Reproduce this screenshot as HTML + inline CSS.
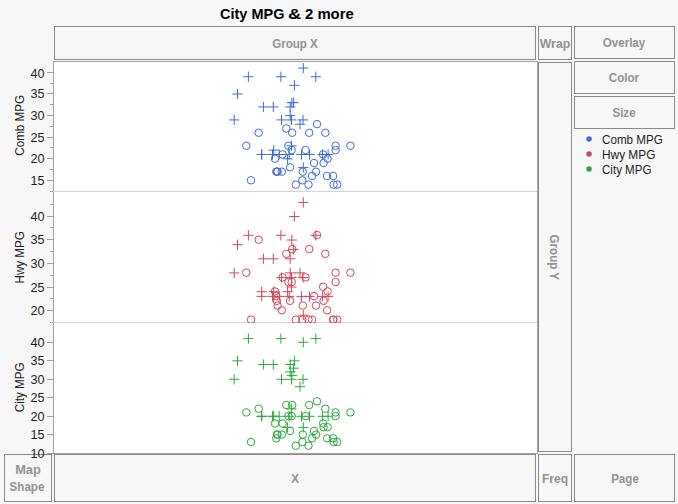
<!DOCTYPE html>
<html><head><meta charset="utf-8"><title>Graph Builder</title>
<style>
html,body{margin:0;padding:0;}
body{width:678px;height:504px;background:#f7f7f7;position:relative;overflow:hidden;font-family:"Liberation Sans",sans-serif;}
.t{position:absolute;white-space:nowrap;line-height:1;}
.title{font-weight:bold;font-size:15.1px;color:#000;transform:scaleX(0.985);transform-origin:0 50%;}
.zone{font-weight:bold;font-size:12.6px;color:#929292;text-align:center;transform:scaleX(0.92);transform-origin:50% 50%;}
.tk{font-size:12.6px;color:#1c1c1c;text-align:right;width:30px;}
.lg{font-size:12.6px;color:#1c1c1c;transform:scaleX(0.925);transform-origin:0 50%;}
.ax{font-size:12.6px;color:#1c1c1c;}
</style></head><body>
<svg width="678" height="504" viewBox="0 0 678 504" style="position:absolute;left:0;top:0">
<defs><clipPath id="c1"><rect x="54" y="62" width="483" height="130"/></clipPath><clipPath id="c2"><rect x="54" y="192" width="483" height="131"/></clipPath><clipPath id="c3"><rect x="54" y="323" width="483" height="130"/></clipPath></defs>
<rect x="54" y="62" width="483" height="391" fill="#ffffff"/>
<g shape-rendering="crispEdges">
<rect x="54.5" y="26.5" width="481" height="33" fill="none" stroke="#8a8a8a" stroke-width="1"/>
<rect x="538.5" y="26.5" width="33" height="33" fill="none" stroke="#8a8a8a" stroke-width="1"/>
<rect x="574.5" y="26.5" width="100" height="32" fill="none" stroke="#8a8a8a" stroke-width="1"/>
<rect x="574.5" y="61.5" width="100" height="32" fill="none" stroke="#8a8a8a" stroke-width="1"/>
<rect x="574.5" y="96.5" width="100" height="32" fill="none" stroke="#8a8a8a" stroke-width="1"/>
<rect x="538.5" y="62.5" width="33" height="389" fill="none" stroke="#8a8a8a" stroke-width="1"/>
<rect x="4.5" y="454.5" width="47" height="47" fill="none" stroke="#8a8a8a" stroke-width="1"/>
<rect x="54.5" y="454.5" width="481" height="47" fill="none" stroke="#8a8a8a" stroke-width="1"/>
<rect x="538.5" y="454.5" width="33" height="47" fill="none" stroke="#8a8a8a" stroke-width="1"/>
<rect x="574.5" y="454.5" width="100" height="47" fill="none" stroke="#8a8a8a" stroke-width="1"/>
<rect x="53" y="61" width="485" height="1" fill="#a2a2a2"/>
<rect x="53" y="61" width="1" height="393" fill="#a2a2a2"/>
<rect x="537" y="61" width="1" height="393" fill="#a2a2a2"/>
<rect x="53" y="453" width="485" height="1" fill="#a2a2a2"/>
<rect x="53" y="191" width="484" height="1" fill="#d4d4d4"/>
<rect x="53" y="322" width="484" height="1" fill="#d4d4d4"/>
<rect x="47" y="72" width="6" height="1" fill="#a0a0a0"/>
<rect x="47" y="93" width="6" height="1" fill="#a0a0a0"/>
<rect x="47" y="115" width="6" height="1" fill="#a0a0a0"/>
<rect x="47" y="137" width="6" height="1" fill="#a0a0a0"/>
<rect x="47" y="158" width="6" height="1" fill="#a0a0a0"/>
<rect x="47" y="180" width="6" height="1" fill="#a0a0a0"/>
<rect x="50" y="83" width="3" height="1" fill="#a0a0a0"/>
<rect x="50" y="104" width="3" height="1" fill="#a0a0a0"/>
<rect x="50" y="126" width="3" height="1" fill="#a0a0a0"/>
<rect x="50" y="147" width="3" height="1" fill="#a0a0a0"/>
<rect x="50" y="169" width="3" height="1" fill="#a0a0a0"/>
<rect x="50" y="191" width="3" height="1" fill="#a0a0a0"/>
<rect x="47" y="216" width="6" height="1" fill="#a0a0a0"/>
<rect x="47" y="239" width="6" height="1" fill="#a0a0a0"/>
<rect x="47" y="263" width="6" height="1" fill="#a0a0a0"/>
<rect x="47" y="287" width="6" height="1" fill="#a0a0a0"/>
<rect x="47" y="310" width="6" height="1" fill="#a0a0a0"/>
<rect x="50" y="204" width="3" height="1" fill="#a0a0a0"/>
<rect x="50" y="227" width="3" height="1" fill="#a0a0a0"/>
<rect x="50" y="251" width="3" height="1" fill="#a0a0a0"/>
<rect x="50" y="275" width="3" height="1" fill="#a0a0a0"/>
<rect x="50" y="298" width="3" height="1" fill="#a0a0a0"/>
<rect x="50" y="322" width="3" height="1" fill="#a0a0a0"/>
<rect x="47" y="342" width="6" height="1" fill="#a0a0a0"/>
<rect x="47" y="360" width="6" height="1" fill="#a0a0a0"/>
<rect x="47" y="379" width="6" height="1" fill="#a0a0a0"/>
<rect x="47" y="397" width="6" height="1" fill="#a0a0a0"/>
<rect x="47" y="416" width="6" height="1" fill="#a0a0a0"/>
<rect x="47" y="434" width="6" height="1" fill="#a0a0a0"/>
<rect x="47" y="453" width="6" height="1" fill="#a0a0a0"/>
</g>
<g clip-path="url(#c1)" stroke="#3f6bdc" stroke-width="1.0" fill="none">
<path d="M243.30 76.72H253.50M248.40 71.62V81.82M275.80 76.72H286.00M280.90 71.62V81.82M298.20 68.08H308.40M303.30 62.98V73.18M310.70 76.72H320.90M315.80 71.62V81.82M232.40 94.00H242.60M237.50 88.90V99.10M258.30 106.96H268.50M263.40 101.86V112.06M268.20 106.96H278.40M273.30 101.86V112.06M289.30 85.36H299.50M294.40 80.26V90.46M285.10 106.96H295.30M290.20 101.86V112.06M288.50 102.64H298.70M293.60 97.54V107.74M285.10 115.60H295.30M290.20 110.50V120.70M286.75 102.64H296.95M291.85 97.54V107.74M229.10 119.92H239.30M234.20 114.82V125.02M276.40 119.92H286.60M281.50 114.82V125.02M286.40 119.92H296.60M291.50 114.82V125.02M297.90 119.92H308.10M303.00 114.82V125.02M294.90 124.24H305.10M300.00 119.14V129.34M256.60 154.48H266.80M261.70 149.38V159.58M256.60 154.48H266.80M261.70 149.38V159.58M267.40 154.48H277.60M272.50 149.38V159.58M268.60 150.16H278.80M273.70 145.06V155.26M274.10 154.48H284.30M279.20 149.38V159.58M284.10 154.48H294.30M289.20 149.38V159.58M286.30 145.84H296.50M291.40 140.74V150.94M296.40 154.48H306.60M301.50 149.38V159.58M304.40 154.48H314.60M309.50 149.38V159.58M317.50 154.48H327.70M322.60 149.38V159.58M323.00 154.48H333.20M328.10 149.38V159.58M282.50 158.80H292.70M287.60 153.70V163.90M298.20 167.44H308.40M303.30 162.34V172.54"/>
<circle cx="246.30" cy="145.74" r="3.75"/>
<circle cx="258.70" cy="132.78" r="3.75"/>
<circle cx="286.30" cy="128.46" r="3.75"/>
<circle cx="292.20" cy="132.78" r="3.75"/>
<circle cx="251.00" cy="180.30" r="3.75"/>
<circle cx="275.00" cy="158.70" r="3.75"/>
<circle cx="282.60" cy="154.38" r="3.75"/>
<circle cx="288.40" cy="145.74" r="3.75"/>
<circle cx="291.70" cy="150.06" r="3.75"/>
<circle cx="290.00" cy="167.34" r="3.75"/>
<circle cx="276.90" cy="171.66" r="3.75"/>
<circle cx="277.60" cy="171.66" r="3.75"/>
<circle cx="276.30" cy="171.66" r="3.75"/>
<circle cx="281.80" cy="171.66" r="3.75"/>
<circle cx="317.00" cy="124.14" r="3.75"/>
<circle cx="309.20" cy="132.78" r="3.75"/>
<circle cx="325.30" cy="132.78" r="3.75"/>
<circle cx="335.60" cy="145.74" r="3.75"/>
<circle cx="335.60" cy="150.06" r="3.75"/>
<circle cx="350.40" cy="145.74" r="3.75"/>
<circle cx="305.60" cy="150.06" r="3.75"/>
<circle cx="323.10" cy="154.38" r="3.75"/>
<circle cx="323.60" cy="163.02" r="3.75"/>
<circle cx="327.60" cy="158.70" r="3.75"/>
<circle cx="314.00" cy="163.02" r="3.75"/>
<circle cx="316.00" cy="171.66" r="3.75"/>
<circle cx="312.00" cy="175.98" r="3.75"/>
<circle cx="302.80" cy="171.66" r="3.75"/>
<circle cx="327.10" cy="175.98" r="3.75"/>
<circle cx="333.10" cy="175.98" r="3.75"/>
<circle cx="333.60" cy="184.62" r="3.75"/>
<circle cx="337.20" cy="184.62" r="3.75"/>
<circle cx="302.40" cy="180.30" r="3.75"/>
<circle cx="308.50" cy="184.62" r="3.75"/>
<circle cx="295.80" cy="184.62" r="3.75"/>
</g>
<g clip-path="url(#c2)" stroke="#d1465a" stroke-width="1.0" fill="none">
<path d="M243.30 235.30H253.50M248.40 230.20V240.40M275.80 235.30H286.00M280.90 230.20V240.40M298.20 202.40H308.40M303.30 197.30V207.50M310.70 235.30H320.90M315.80 230.20V240.40M232.40 244.70H242.60M237.50 239.60V249.80M258.30 258.80H268.50M263.40 253.70V263.90M268.20 258.80H278.40M273.30 253.70V263.90M289.30 216.50H299.50M294.40 211.40V221.60M285.10 258.80H295.30M290.20 253.70V263.90M288.50 249.40H298.70M293.60 244.30V254.50M285.10 272.90H295.30M290.20 267.80V278.00M286.75 240.00H296.95M291.85 234.90V245.10M229.10 272.90H239.30M234.20 267.80V278.00M276.40 277.60H286.60M281.50 272.50V282.70M286.40 277.60H296.60M291.50 272.50V282.70M297.90 277.60H308.10M303.00 272.50V282.70M294.90 272.90H305.10M300.00 267.80V278.00M256.60 291.70H266.80M261.70 286.60V296.80M256.60 296.40H266.80M261.70 291.30V301.50M267.40 296.40H277.60M272.50 291.30V301.50M268.60 291.70H278.80M273.70 286.60V296.80M274.10 296.40H284.30M279.20 291.30V301.50M284.10 296.40H294.30M289.20 291.30V301.50M286.30 287.00H296.50M291.40 281.90V292.10M296.40 296.40H306.60M301.50 291.30V301.50M304.40 296.40H314.60M309.50 291.30V301.50M317.50 296.40H327.70M322.60 291.30V301.50M323.00 296.40H333.20M328.10 291.30V301.50M282.50 291.70H292.70M287.60 286.60V296.80M298.20 315.20H308.40M303.30 310.10V320.30"/>
<circle cx="246.30" cy="272.65" r="3.75"/>
<circle cx="258.70" cy="239.75" r="3.75"/>
<circle cx="286.30" cy="253.85" r="3.75"/>
<circle cx="292.20" cy="249.15" r="3.75"/>
<circle cx="251.00" cy="319.65" r="3.75"/>
<circle cx="275.00" cy="291.45" r="3.75"/>
<circle cx="282.60" cy="277.35" r="3.75"/>
<circle cx="288.40" cy="282.05" r="3.75"/>
<circle cx="291.70" cy="282.05" r="3.75"/>
<circle cx="290.00" cy="300.85" r="3.75"/>
<circle cx="276.90" cy="300.85" r="3.75"/>
<circle cx="277.60" cy="305.55" r="3.75"/>
<circle cx="276.30" cy="296.15" r="3.75"/>
<circle cx="281.80" cy="310.25" r="3.75"/>
<circle cx="317.00" cy="235.05" r="3.75"/>
<circle cx="309.20" cy="249.15" r="3.75"/>
<circle cx="325.30" cy="253.85" r="3.75"/>
<circle cx="335.60" cy="272.65" r="3.75"/>
<circle cx="335.60" cy="282.05" r="3.75"/>
<circle cx="350.40" cy="272.65" r="3.75"/>
<circle cx="305.60" cy="277.35" r="3.75"/>
<circle cx="323.10" cy="286.75" r="3.75"/>
<circle cx="323.60" cy="300.85" r="3.75"/>
<circle cx="327.60" cy="291.45" r="3.75"/>
<circle cx="314.00" cy="296.15" r="3.75"/>
<circle cx="316.00" cy="305.55" r="3.75"/>
<circle cx="312.00" cy="319.65" r="3.75"/>
<circle cx="302.80" cy="305.55" r="3.75"/>
<circle cx="327.10" cy="310.25" r="3.75"/>
<circle cx="333.10" cy="319.65" r="3.75"/>
<circle cx="333.60" cy="319.65" r="3.75"/>
<circle cx="337.20" cy="319.65" r="3.75"/>
<circle cx="302.40" cy="319.65" r="3.75"/>
<circle cx="308.50" cy="319.65" r="3.75"/>
<circle cx="295.80" cy="319.65" r="3.75"/>
</g>
<g clip-path="url(#c3)" stroke="#2ca83c" stroke-width="1.0" fill="none">
<path d="M243.30 338.60H253.50M248.40 333.50V343.70M275.80 338.60H286.00M280.90 333.50V343.70M298.20 342.30H308.40M303.30 337.20V347.40M310.70 338.60H320.90M315.80 333.50V343.70M232.40 360.80H242.60M237.50 355.70V365.90M258.30 364.50H268.50M263.40 359.40V369.60M268.20 364.50H278.40M273.30 359.40V369.60M289.30 360.80H299.50M294.40 355.70V365.90M285.10 364.50H295.30M290.20 359.40V369.60M288.50 368.20H298.70M293.60 363.10V373.30M285.10 371.90H295.30M290.20 366.80V377.00M286.75 375.60H296.95M291.85 370.50V380.70M229.10 379.30H239.30M234.20 374.20V384.40M276.40 379.30H286.60M281.50 374.20V384.40M286.40 379.30H296.60M291.50 374.20V384.40M297.90 379.30H308.10M303.00 374.20V384.40M294.90 386.70H305.10M300.00 381.60V391.80M256.60 416.30H266.80M261.70 411.20V421.40M256.60 416.30H266.80M261.70 411.20V421.40M267.40 416.30H277.60M272.50 411.20V421.40M268.60 416.30H278.80M273.70 411.20V421.40M274.10 416.30H284.30M279.20 411.20V421.40M284.10 416.30H294.30M289.20 411.20V421.40M286.30 408.90H296.50M291.40 403.80V414.00M296.40 416.30H306.60M301.50 411.20V421.40M304.40 416.30H314.60M309.50 411.20V421.40M317.50 416.30H327.70M322.60 411.20V421.40M323.00 416.30H333.20M328.10 411.20V421.40M282.50 427.40H292.70M287.60 422.30V432.50M298.20 427.40H308.40M303.30 422.30V432.50"/>
<circle cx="246.30" cy="412.40" r="3.75"/>
<circle cx="258.70" cy="408.70" r="3.75"/>
<circle cx="286.30" cy="405.00" r="3.75"/>
<circle cx="292.20" cy="405.00" r="3.75"/>
<circle cx="251.00" cy="442.00" r="3.75"/>
<circle cx="275.00" cy="423.50" r="3.75"/>
<circle cx="282.60" cy="423.50" r="3.75"/>
<circle cx="288.40" cy="416.10" r="3.75"/>
<circle cx="291.70" cy="416.10" r="3.75"/>
<circle cx="290.00" cy="430.90" r="3.75"/>
<circle cx="276.90" cy="434.60" r="3.75"/>
<circle cx="277.60" cy="434.60" r="3.75"/>
<circle cx="276.30" cy="438.30" r="3.75"/>
<circle cx="281.80" cy="434.60" r="3.75"/>
<circle cx="317.00" cy="401.30" r="3.75"/>
<circle cx="309.20" cy="405.00" r="3.75"/>
<circle cx="325.30" cy="408.70" r="3.75"/>
<circle cx="335.60" cy="412.40" r="3.75"/>
<circle cx="335.60" cy="416.10" r="3.75"/>
<circle cx="350.40" cy="412.40" r="3.75"/>
<circle cx="305.60" cy="416.10" r="3.75"/>
<circle cx="323.10" cy="423.50" r="3.75"/>
<circle cx="323.60" cy="427.20" r="3.75"/>
<circle cx="327.60" cy="427.20" r="3.75"/>
<circle cx="314.00" cy="430.90" r="3.75"/>
<circle cx="316.00" cy="434.60" r="3.75"/>
<circle cx="312.00" cy="438.30" r="3.75"/>
<circle cx="302.80" cy="434.60" r="3.75"/>
<circle cx="327.10" cy="438.30" r="3.75"/>
<circle cx="333.10" cy="438.30" r="3.75"/>
<circle cx="333.60" cy="442.00" r="3.75"/>
<circle cx="337.20" cy="442.00" r="3.75"/>
<circle cx="302.40" cy="442.00" r="3.75"/>
<circle cx="308.50" cy="445.70" r="3.75"/>
<circle cx="295.80" cy="445.70" r="3.75"/>
</g>
<circle cx="589.05" cy="139" r="3.7" fill="#ffffff" fill-opacity="0.6"/>
<circle cx="589.05" cy="139" r="2.8" fill="#3f6bdc"/>
<circle cx="589.05" cy="154" r="3.7" fill="#ffffff" fill-opacity="0.6"/>
<circle cx="589.05" cy="154" r="2.8" fill="#d1465a"/>
<circle cx="589.05" cy="169" r="3.7" fill="#ffffff" fill-opacity="0.6"/>
<circle cx="589.05" cy="169" r="2.8" fill="#2ca83c"/>
</svg>
<div class="t title" style="left:220.2px;top:6px;transform:scaleX(0.96);">City MPG</div>
<div class="t title" style="left:288.0px;top:6px;transform:scaleX(1.22);">&amp;</div>
<div class="t title" style="left:305.2px;top:6px;">2 more</div>
<div class="t zone" style="left:234.90px;width:120px;top:38.00px;transform:scaleX(0.92);">Group X</div>
<div class="t zone" style="left:495.20px;width:120px;top:38.00px;transform:scaleX(0.975);">Wrap</div>
<div class="t zone" style="left:564.10px;width:120px;top:37.00px;transform:scaleX(0.92);">Overlay</div>
<div class="t zone" style="left:564.00px;width:120px;top:72.00px;transform:scaleX(0.92);">Color</div>
<div class="t zone" style="left:564.00px;width:120px;top:107.00px;transform:scaleX(0.92);">Size</div>
<div class="t zone" style="left:-32.20px;width:120px;top:464.00px;transform:scaleX(1.02);">Map</div>
<div class="t zone" style="left:-33.10px;width:120px;top:481.00px;transform:scaleX(0.92);">Shape</div>
<div class="t zone" style="left:235.00px;width:120px;top:473.00px;transform:scaleX(0.92);">X</div>
<div class="t zone" style="left:495.00px;width:120px;top:473.00px;transform:scaleX(0.95);">Freq</div>
<div class="t zone" style="left:564.50px;width:120px;top:473.00px;transform:scaleX(0.92);">Page</div>
<div class="t tk" style="left:14.5px;top:68.00px;">40</div>
<div class="t tk" style="left:14.5px;top:88.00px;">35</div>
<div class="t tk" style="left:14.5px;top:110.00px;">30</div>
<div class="t tk" style="left:14.5px;top:132.00px;">25</div>
<div class="t tk" style="left:14.5px;top:153.00px;">20</div>
<div class="t tk" style="left:14.5px;top:175.00px;">15</div>
<div class="t tk" style="left:14.5px;top:211.00px;">40</div>
<div class="t tk" style="left:14.5px;top:234.00px;">35</div>
<div class="t tk" style="left:14.5px;top:258.00px;">30</div>
<div class="t tk" style="left:14.5px;top:282.00px;">25</div>
<div class="t tk" style="left:14.5px;top:305.00px;">20</div>
<div class="t tk" style="left:14.5px;top:337.00px;">40</div>
<div class="t tk" style="left:14.5px;top:355.00px;">35</div>
<div class="t tk" style="left:14.5px;top:374.00px;">30</div>
<div class="t tk" style="left:14.5px;top:392.00px;">25</div>
<div class="t tk" style="left:14.5px;top:411.00px;">20</div>
<div class="t tk" style="left:14.5px;top:429.00px;">15</div>
<div class="t tk" style="left:14.5px;top:448.00px;">10</div>
<div class="t lg" style="left:602.3px;top:134.00px;transform:scaleX(0.925);">Comb MPG</div>
<div class="t lg" style="left:602.3px;top:149.00px;transform:scaleX(0.942);">Hwy MPG</div>
<div class="t lg" style="left:602.3px;top:164.00px;transform:scaleX(0.918);">City MPG</div>
<div class="t ax" style="left:-19.57px;top:118.50px;width:80px;text-align:center;transform:rotate(-90deg) scaleX(0.925);transform-origin:50% 50%;">Comb MPG</div>
<div class="t ax" style="left:-19.57px;top:250.70px;width:80px;text-align:center;transform:rotate(-90deg) scaleX(0.925);transform-origin:50% 50%;">Hwy MPG</div>
<div class="t ax" style="left:-19.57px;top:380.70px;width:80px;text-align:center;transform:rotate(-90deg) scaleX(0.925);transform-origin:50% 50%;">City MPG</div>
<div class="t" style="font-weight:bold;font-size:12.6px;color:#929292;left:513.77px;top:251.20px;width:80px;text-align:center;transform:rotate(90deg) scaleX(0.92);transform-origin:50% 50%;">Group Y</div>
</body></html>
